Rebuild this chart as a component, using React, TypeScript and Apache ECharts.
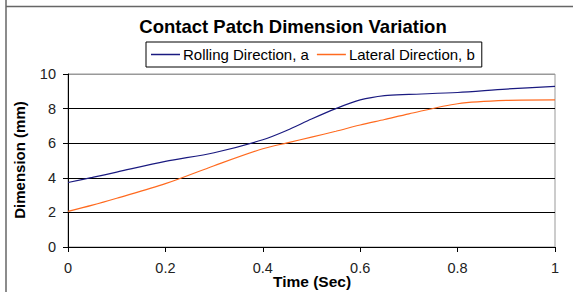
import React, { useEffect, useRef } from "react";
import * as echarts from "echarts";

const title = "Contact Patch Dimension Variation";
const seriesNames = ["Rolling Direction, a", "Lateral Direction, b"];
const time = [0, 0.05, 0.1, 0.2, 0.3, 0.4, 0.45, 0.5, 0.55, 0.6, 0.65, 0.7, 0.8, 0.9, 1.0];
const rolling = [3.73, 4.02, 4.33, 4.95, 5.45, 6.2, 6.75, 7.4, 8.0, 8.5, 8.75, 8.82, 8.93, 9.13, 9.28];
const lateral = [2.06, 2.42, 2.82, 3.66, 4.7, 5.68, 6.02, 6.35, 6.69, 7.05, 7.37, 7.7, 8.28, 8.47, 8.5];
const xAxisTitle = "Time (Sec)";
const yAxisTitle = "Dimension (mm)";

export default function App() {
  const ref = useRef<HTMLDivElement>(null);
  useEffect(() => {
    if (!ref.current) return;
    const chart = echarts.init(ref.current, null, { renderer: "svg" });
    const font = "Liberation Sans, Arial, sans-serif";
    chart.setOption({
      animation: false,
      backgroundColor: "#fff",
      title: {
        text: title,
        left: 293,
        textAlign: "center",
        top: 17,
        padding: 0,
        textStyle: { fontFamily: font, fontSize: 18.5, fontWeight: "bold", color: "#000" },
      },
      legend: {
        left: 146,
        top: 42,
        padding: [5, 7, 5, 5],
        borderColor: "#000",
        borderWidth: 1,
        itemWidth: 29,
        itemHeight: 1.5,
        itemGap: 8,
        icon: "rect",
        textStyle: { fontFamily: font, fontSize: 15, color: "#000", padding: [0, 0, 0, -2] },
        data: seriesNames,
      },
      grid: {
        left: 68,
        right: 18,
        top: 74,
        bottom: 45,
        show: true,
        borderColor: "#999",
        borderWidth: 1,
      },
      xAxis: {
        type: "value",
        min: 0,
        max: 1,
        interval: 0.2,
        axisLine: { show: true, lineStyle: { color: "#000", width: 1 } },
        axisTick: { show: true, length: 5, lineStyle: { color: "#000" } },
        splitLine: { show: false },
        axisLabel: { fontFamily: font, fontSize: 14.5, color: "#222", margin: 13 },
      },
      yAxis: {
        type: "value",
        min: 0,
        max: 10,
        interval: 2,
        axisLine: { show: true, lineStyle: { color: "#000", width: 1 } },
        axisTick: { show: true, length: 5, lineStyle: { color: "#000" } },
        splitLine: {
          show: true,
          lineStyle: { color: ["#000", "#000", "#000", "#000", "#000", "#999"], width: 1 },
        },
        axisLabel: { fontFamily: font, fontSize: 14.5, color: "#222", margin: 12 },
      },
      graphic: [
        {
          type: "line",
          shape: { x1: 6, y1: 0, x2: 6, y2: 292 },
          style: { stroke: "#666", lineWidth: 1.5 },
        },
        {
          type: "line",
          shape: { x1: 6, y1: 6.5, x2: 573, y2: 6.5 },
          style: { stroke: "#666", lineWidth: 1.5 },
        },
        {
          type: "text",
          x: 312,
          y: 281,
          style: {
            text: xAxisTitle,
            fontFamily: font,
            fontSize: 15.5,
            fontWeight: "bold",
            fill: "#000",
            textAlign: "center",
            textVerticalAlign: "middle",
          },
        },
        {
          type: "text",
          x: 19,
          y: 160,
          rotation: Math.PI / 2,
          style: {
            text: yAxisTitle,
            fontFamily: font,
            fontSize: 15,
            fontWeight: "bold",
            fill: "#000",
            textAlign: "center",
            textVerticalAlign: "middle",
          },
        },
      ],
      series: [
        {
          name: seriesNames[0],
          type: "line",
          data: time.map((t, i) => [t, rolling[i]]),
          smooth: 0.3,
          showSymbol: false,
          symbol: "none",
          lineStyle: { color: "#1a1a80", width: 1.2 },
          itemStyle: { color: "#1a1a80" },
        },
        {
          name: seriesNames[1],
          type: "line",
          data: time.map((t, i) => [t, lateral[i]]),
          smooth: 0.3,
          showSymbol: false,
          symbol: "none",
          lineStyle: { color: "#ff6a1f", width: 1.2 },
          itemStyle: { color: "#ff6a1f" },
        },
      ],
    });
    return () => chart.dispose();
  }, []);
  return <div ref={ref} style={{ width: 573, height: 292, position: "absolute", left: 0, top: 0 }} />;
}
